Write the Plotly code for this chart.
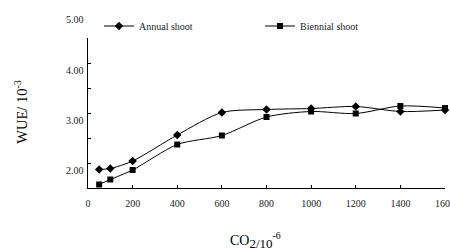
import plotly.graph_objects as go

co2 = [50, 100, 200, 400, 600, 800, 1000, 1200, 1400, 1600]
annual = [1.87, 1.89, 2.04, 2.56, 3.01, 3.07, 3.09, 3.13, 3.03, 3.06]
biennial = [1.57, 1.67, 1.86, 2.37, 2.55, 2.92, 3.03, 2.99, 3.14, 3.10]
x_ticks = [0, 200, 400, 600, 800, 1000, 1200, 1400, 1600]
y_label_vals = [2, 3, 4, 5]
y_labels = ["2.00", "3.00", "4.00", "5.00"]
y_tick_vals = [2, 2.5, 3, 3.5, 4, 4.5]
Y_RANGE = [1.5, 4.5]

FONT = "Liberation Serif"
W, H = 450, 251

fig = go.Figure()
fig.add_trace(go.Scatter(
    x=co2, y=annual, name="Annual shoot", mode="lines+markers",
    line=dict(color="black", width=1, shape="spline", smoothing=0.8),
    marker=dict(symbol="diamond", size=6.5, color="black"),
    cliponaxis=False,
))
fig.add_trace(go.Scatter(
    x=co2, y=biennial, name="Biennial shoot", mode="lines+markers",
    line=dict(color="black", width=1, shape="spline", smoothing=0.8),
    marker=dict(symbol="square", size=6, color="black"),
    cliponaxis=False,
))

for v, t in zip(y_label_vals, y_labels):
    fig.add_annotation(x=0, xref="paper", xanchor="right", xshift=-2,
                       y=(v - Y_RANGE[0]) / (Y_RANGE[1] - Y_RANGE[0]), yref="paper",
                       yanchor="middle", yshift=-7,
                       text=t, showarrow=False,
                       font=dict(family=FONT, size=10, color="#222"))

fig.add_annotation(x=-0.19, xref="paper", y=0.51, yref="paper",
                   xanchor="center", yanchor="middle", textangle=-90,
                   text="WUE/ 10<sup>-3</sup>", showarrow=False,
                   font=dict(family=FONT, size=14.5, color="black"))

fig.add_annotation(x=0.47, xref="paper", y=-0.35, yref="paper",
                   xanchor="center", yanchor="middle",
                   text="CO<sub><span style='font-size:13px'>2/10</span></sub><sup>-6</sup>",
                   showarrow=False,
                   font=dict(family=FONT, size=14, color="black"))

fig.update_layout(
    template="none",
    width=W, height=H,
    margin=dict(l=88, r=5, t=38, b=63, autoexpand=False),
    paper_bgcolor="white", plot_bgcolor="white",
    font=dict(family=FONT, size=10, color="#222"),
    showlegend=True,
    hovermode=False,
    legend=dict(orientation="h", x=99 / W, xref="container", y=1 - 26 / H,
                yref="container", yanchor="middle", xanchor="left",
                entrywidth=116, entrywidthmode="pixels",
                font=dict(family=FONT, size=10, color="#222"),
                bgcolor="rgba(0,0,0,0)", borderwidth=0),
    xaxis=dict(range=[0, 1600], tickvals=x_ticks, ticks="inside", ticklen=3,
               tickcolor="black", showline=True, linecolor="black", linewidth=1,
               showgrid=False, zeroline=False, ticklabelstandoff=6,
               ticklabeloverflow="allow", automargin=False,
               tickfont=dict(family=FONT, size=10, color="#222")),
    yaxis=dict(range=Y_RANGE, tickvals=y_tick_vals, ticks="inside", ticklen=3,
               tickcolor="black", showticklabels=False, showline=True,
               linecolor="black", linewidth=1, showgrid=False, zeroline=False,
               automargin=False),
)

fig.write_html("out.html", config={"displayModeBar": False},
               post_script="document.body.style.margin='0';document.body.style.overflow='hidden';")
